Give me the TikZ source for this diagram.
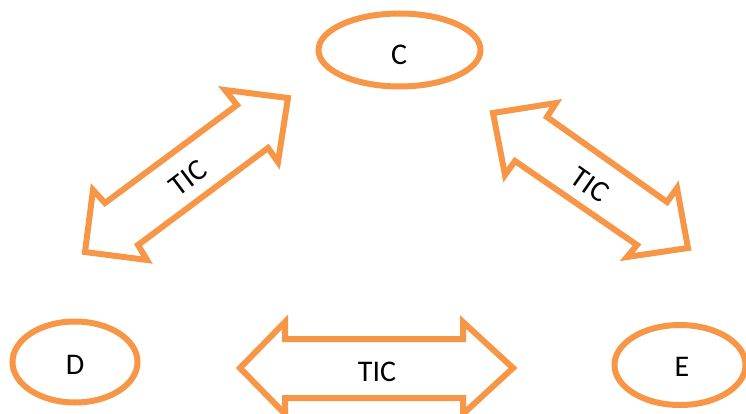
\documentclass[tikz,border=0pt]{standalone}
\usepackage{fontspec}
\setmainfont{Carlito}
\usetikzlibrary{shapes.geometric}
\definecolor{accorange}{HTML}{F79646}
\tikzset{
  ell/.style={draw=accorange, line width=6pt, ellipse, fill=white, inner sep=0pt},
  bigarrow/.style={draw=accorange, line width=6pt, line join=miter, fill=white},
  lbl/.style={font=\fontsize{30}{34}\selectfont, inner sep=0pt}
}
\begin{document}
\begin{tikzpicture}[x=1pt,y=-1pt]
\useasboundingbox (0,0) rectangle (746,414);
% ellipses
\node[ell, minimum width=162pt, minimum height=73pt] (C) at (399.5,50) {};
\node[lbl] (Ct) at (399,55) {C};
\node[ell, minimum width=125pt, minimum height=81pt] (D) at (75,362) {};
\node[lbl] (Dt) at (75,365) {D};
\node[ell, minimum width=131pt, minimum height=80pt] (E) at (680,365) {};
\node[lbl] (Et) at (682,367) {E};
% left diagonal arrow
\draw[bigarrow] (288,98) -- (225,90) -- (237,105) -- (105,203) -- (93,190) -- (85,252)
  -- (147,260) -- (138,245) -- (268,148) -- (278,162) -- cycle;
\node[lbl, rotate=37] (t1) at (188,178) {TIC};
% right diagonal arrow
\draw[bigarrow] (493,113) -- (556,103) -- (547,117) -- (667,202) -- (677,188) -- (688,248)
  -- (627,257) -- (637,245) -- (515,161) -- (505,175) -- cycle;
\node[lbl, rotate=-35] (t2) at (590,185) {TIC};
% bottom horizontal arrow
\draw[bigarrow] (240,368) -- (285,322) -- (285,339) -- (463,339) -- (463,322) -- (513,368)
  -- (463,414) -- (463,398) -- (285,398) -- (285,414) -- cycle;
\node[lbl] (t3) at (377,372) {TIC};
\end{tikzpicture}
\end{document}
